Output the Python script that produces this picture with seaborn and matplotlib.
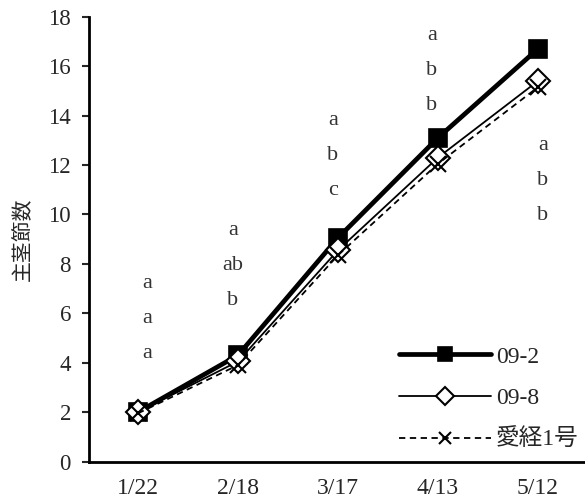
import matplotlib
matplotlib.use("Agg")
import matplotlib.pyplot as plt
import seaborn as sns
import pandas as pd

dates = ["1/22", "2/18", "3/17", "4/13", "5/12"]
s_092 = [2.0, 4.3, 9.05, 13.1, 16.7]
s_098 = [2.0, 4.05, 8.55, 12.3, 15.4]
s_aikei = [1.95, 3.9, 8.35, 12.05, 15.15]
series_names = ["09-2", "09-8", "愛経1号"]

letters = [["a", "a", "a"], ["a", "ab", "b"], ["a", "b", "c"], ["a", "b", "b"], ["a", "b", "b"]]
letter_top = [7.2, 9.35, 13.8, 17.25, 12.8]
letter_dx = [0.09, -0.05, -0.05, -0.06, 0.05]

ylabel = "主茎節数"

sns.set_style("white")
plt.rcParams["font.family"] = ["Liberation Serif", "Noto Sans CJK JP"]

fig = plt.figure(figsize=(5.85, 5.03), dpi=100)
ax = fig.add_axes([89 / 585, (503 - 461.5) / 503, (585 - 89) / 585, (461.5 - 16.7) / 503])

df = pd.DataFrame({"date": dates * 3,
                   "value": s_092 + s_098 + s_aikei,
                   "series": [series_names[0]] * 5 + [series_names[1]] * 5 + [series_names[2]] * 5})

styles = {
    "09-2": dict(lw=3.4, ls="-", marker="s", ms=13, mfc="black", mec="black", mew=1.2),
    "09-8": dict(lw=1.3, ls="-", marker="D", ms=12, mfc="white", mec="black", mew=1.5),
    "愛経1号": dict(lw=1.3, ls=(0, (3.5, 2.5)), marker="x", ms=12, mfc="black", mec="black", mew=1.5),
}

for name in series_names:
    sub = df[df["series"] == name]
    st = styles[name]
    sns.lineplot(data=sub, x="date", y="value", ax=ax, color="black", label=name,
                 linewidth=st["lw"], linestyle=st["ls"], marker=st["marker"],
                 markersize=st["ms"], markerfacecolor=st["mfc"], markeredgecolor=st["mec"],
                 markeredgewidth=st["mew"], sort=False)

ax.set_ylim(0, 18)
ax.set_yticks(range(0, 19, 2))
ax.set_xlim(-0.49, 4.47)
ax.set_xlabel("")
ax.set_ylabel(ylabel, fontsize=15, labelpad=10)

for sp in ["top", "right"]:
    ax.spines[sp].set_visible(False)
for sp in ["left", "bottom"]:
    ax.spines[sp].set_linewidth(2)
    ax.spines[sp].set_color("black")

ax.tick_params(axis="y", direction="out", length=5, width=1.5, left=True, labelsize=16.5, pad=8)
ax.tick_params(axis="x", length=0, labelsize=17, pad=12)

step = 1.42
for i, labs in enumerate(letters):
    for j, t in enumerate(labs):
        ax.text(i + letter_dx[i], letter_top[i] - j * step, t, ha="center", va="center",
                fontsize=16, color="#333333")

leg = ax.legend(loc="lower right", frameon=False, fontsize=17, handlelength=3.9,
                handletextpad=0.2, labelspacing=0.85, markerscale=0.75,
                bbox_to_anchor=(1.03, -0.025))

fig.savefig("out.png", dpi=100)
